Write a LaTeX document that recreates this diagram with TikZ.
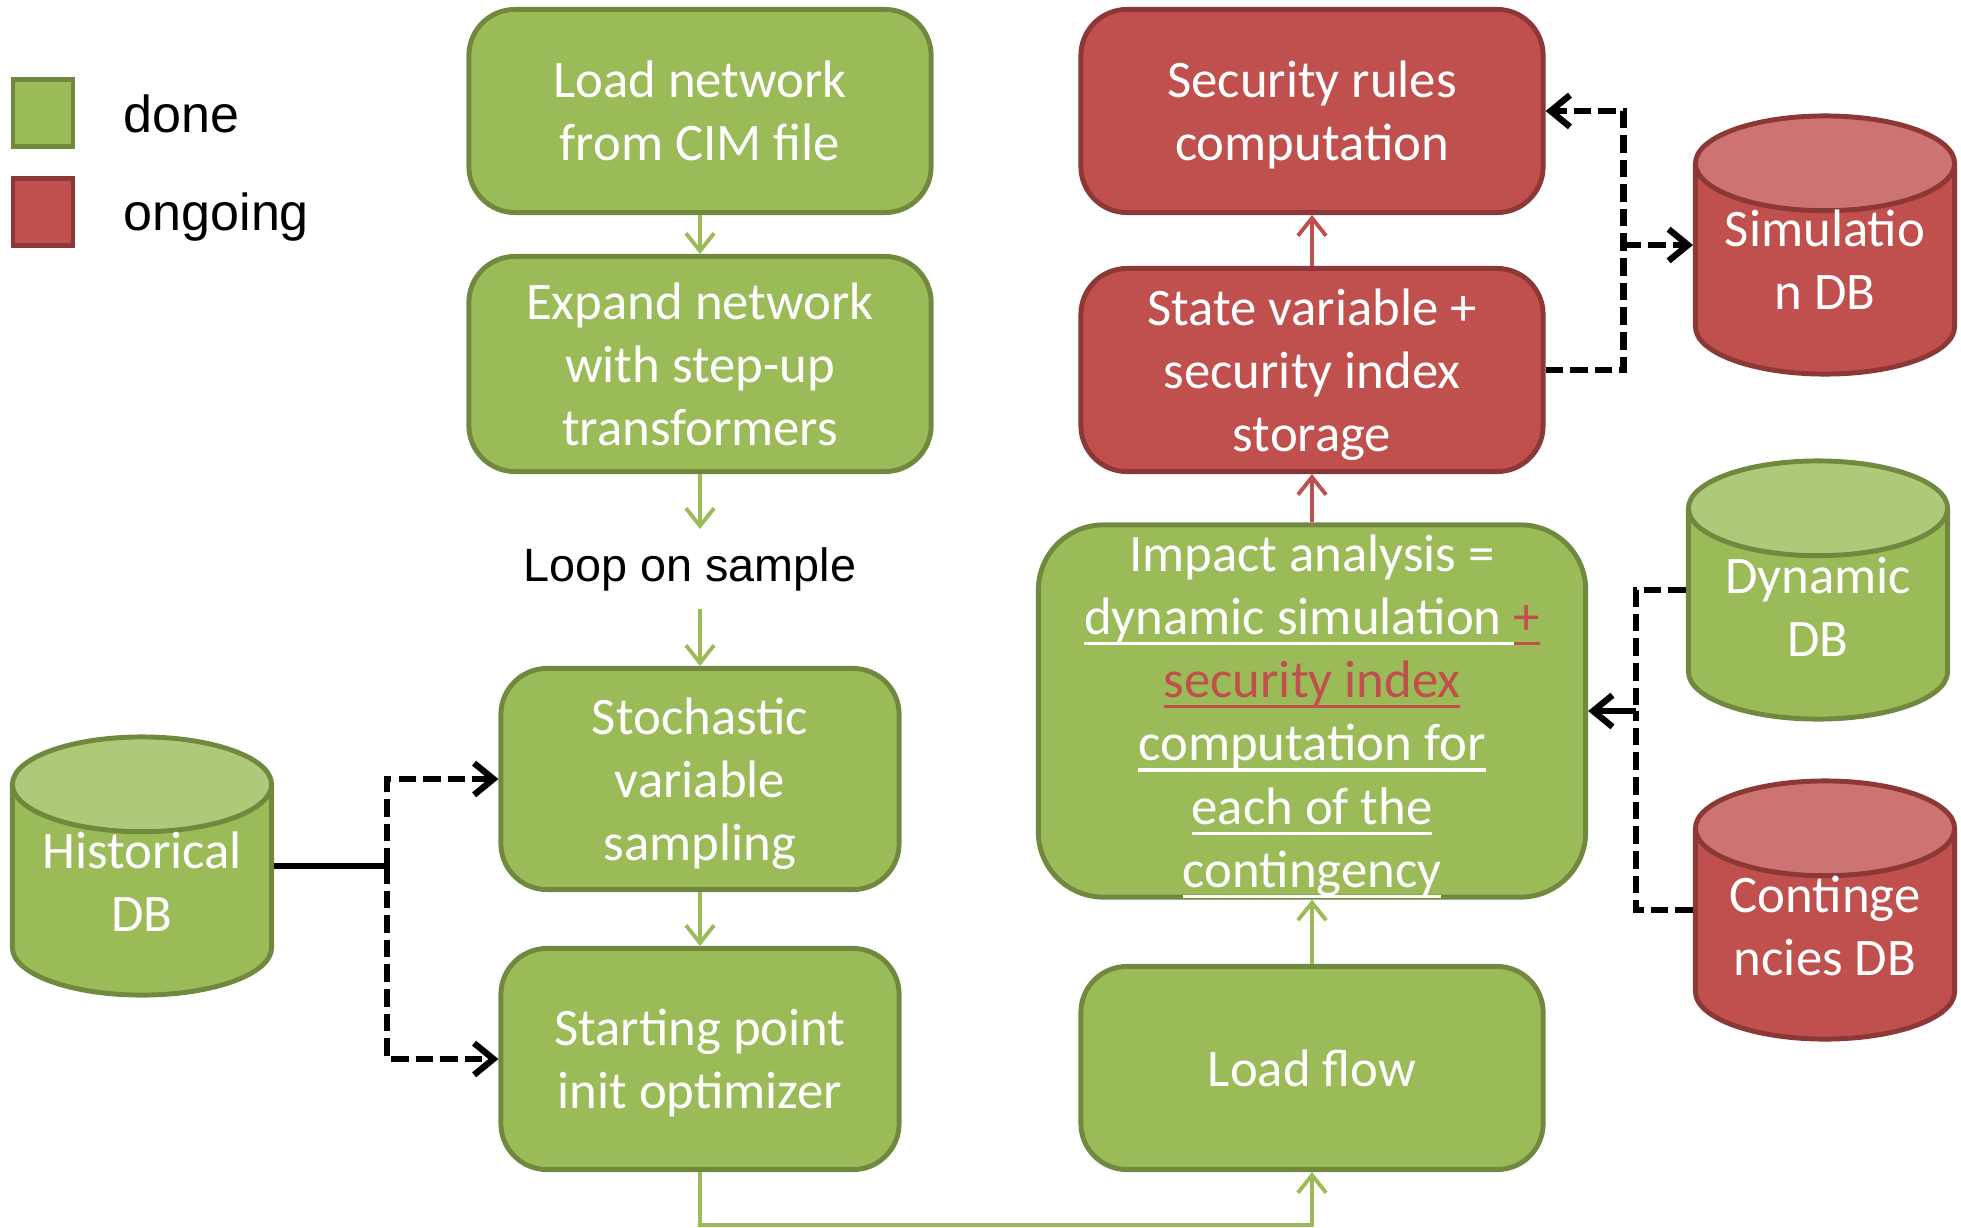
\documentclass[tikz,border=0pt]{standalone}
\usepackage{fontspec}
\setmainfont{Carlito}
\newfontfamily\arialfont{Liberation Sans}
\usetikzlibrary{shapes.geometric,arrows.meta}
\definecolor{donefill}{HTML}{9BBB59}
\definecolor{doneline}{HTML}{71893F}
\definecolor{donetop}{HTML}{AFC97A}
\definecolor{ongoingfill}{HTML}{C0504D}
\definecolor{ongoingline}{HTML}{8C3836}
\definecolor{ongoingtop}{HTML}{CD7371}
\newcommand\undertext[1]{\setbox0\hbox{#1}\rlap{\rule[-3pt]{\wd0}{0.9pt}}\box0}
\tikzset{
  boxtext/.style={align=center, text=white, font=\fontsize{15}{18}\selectfont, text depth=0pt},
  stepbox/.style={boxtext, draw, line width=1.4pt, rounded corners=0.46cm,
    minimum width=4.62cm, minimum height=2.03cm},
  donebox/.style={stepbox, fill=donefill, draw=doneline},
  ongoingbox/.style={stepbox, fill=ongoingfill, draw=ongoingline},
  dbase/.style={cylinder, shape border rotate=90, aspect=0.37, draw, line width=1.4pt,
    cylinder uses custom fill, anchor=shape center, inner xsep=1.28cm,
    minimum width=2.59cm, minimum height=2.58cm},
  donedb/.style={dbase, draw=doneline, cylinder body fill=donefill, cylinder end fill=donetop},
  ongoingdb/.style={dbase, draw=ongoingline, cylinder body fill=ongoingfill, cylinder end fill=ongoingtop},
  keybox/.style={draw, line width=1.4pt, minimum width=0.6cm, minimum height=0.67cm, inner sep=0pt},
  keytext/.style={anchor=base west, inner sep=0pt, font=\arialfont\fontsize{14.8}{17}\selectfont},
  linkarrow/.style={line width=1.1pt, -{Straight Barb[length=5pt,width=8pt]}},
  datadash/.style={line width=1.8pt, dash pattern=on 5pt off 2pt},
  dataarrow/.style={datadash, -{Straight Barb[length=5.5pt,width=9pt]}},
}
\begin{document}
\begin{tikzpicture}[x=0.01cm, y=-0.01cm]
  \useasboundingbox (0,0) rectangle (1961,1227);
  \node [keybox, fill=donefill, draw=doneline] (donekey) at (43,113) {};
  \node [keytext] (donetext) at (123,132) {done};
  \node [keybox, fill=ongoingfill, draw=ongoingline] (ongoingkey) at (43,212) {};
  \node [keytext] (ongoingtext) at (123,230) {ongoing};

  \node [donebox] (load) at (700,111) {Load network\\from CIM file};
  \node [donebox, minimum height=2.15cm] (expand) at (700,364) {Expand network\\with step-up\\transformers};
  \node [inner ysep=5pt, font=\arialfont\fontsize{13.3}{16}\selectfont] (loop) at (690,569) {Loop on sample};
  \node [donebox, minimum width=3.98cm, minimum height=2.21cm] (stoch) at (700,779) {Stochastic\\variable\\sampling};
  \node [donebox, minimum width=3.98cm, minimum height=2.21cm] (start) at (700,1059) {Starting point\\init optimizer};
  \node [donedb] (hist) at (142,866) {};
  \node [boxtext] (histtext) at ([yshift=-0.154cm]hist.shape center) {Historical\\DB};

  \node [donebox] (flow) at (1312,1068) {Load flow};
  \node [donebox, minimum width=5.47cm, minimum height=3.72cm, inner sep=0pt, rounded corners=0.65cm] (impact) at (1312,711)
    {Impact analysis =\\ \undertext{dynamic simulation }{\color{ongoingfill}\undertext{+}}\\
     {\color{ongoingfill}\undertext{security index}}\\ \undertext{computation for}\\ \undertext{each of the}\\ \undertext{contingency}};
  \node [ongoingbox] (state) at (1312,370) {State variable +\\security index\\storage};
  \node [ongoingbox] (rules) at (1312,111) {Security rules\\computation};
  \node [ongoingdb] (sim) at (1825,245) {};
  \node [boxtext] (simtext) at ([yshift=-0.144cm]sim.shape center) {Simulatio\\n DB};
  \node [donedb] (dyn) at (1818,590) {};
  \node [boxtext] (dyntext) at ([yshift=-0.169cm]dyn.shape center) {Dynamic\\DB};
  \node [ongoingdb] (cont) at (1825,910) {};
  \node [boxtext] (conttext) at ([yshift=-0.154cm]cont.shape center) {Continge\\ncies DB};

  \draw [linkarrow, donefill] (load) -- (expand);
  \draw [linkarrow, donefill] (expand) -- (expand.south |- loop.north);
  \draw [linkarrow, donefill] (expand.south |- loop.south) -- (stoch);
  \draw [linkarrow, donefill] (stoch) -- (start);
  \draw [linkarrow, donefill] (start.south) -- ++(0,53) -| (flow.south);
  \draw [linkarrow, donefill] (flow) -- (impact);
  \draw [linkarrow, ongoingfill] (impact) -- (state);
  \draw [linkarrow, ongoingfill] (state) -- (rules);

  \draw [dataarrow] (state.east) -- ++(78,0) coordinate (storej) |- (rules.east);
  \draw [dataarrow] (storej |- sim.shape center) -- (sim.west |- sim.shape center);
  \draw [line width=1.8pt] (hist.east |- hist.shape center) -- ++(113,0) coordinate (histj);
  \draw [dataarrow] (histj) |- (stoch.west);
  \draw [dataarrow] (histj) |- (start.west);
  \draw [datadash] (dyn.west |- dyn.shape center) -- ++(-50,0) coordinate (dynj) -- (dynj |- impact.east) coordinate (impj);
  \draw [datadash] (cont.west |- cont.shape center) -| (impj);
  \draw [line width=1.8pt, -{Straight Barb[length=5.5pt,width=9pt]}] (impj) -- (impact.east);
\end{tikzpicture}
\end{document}
